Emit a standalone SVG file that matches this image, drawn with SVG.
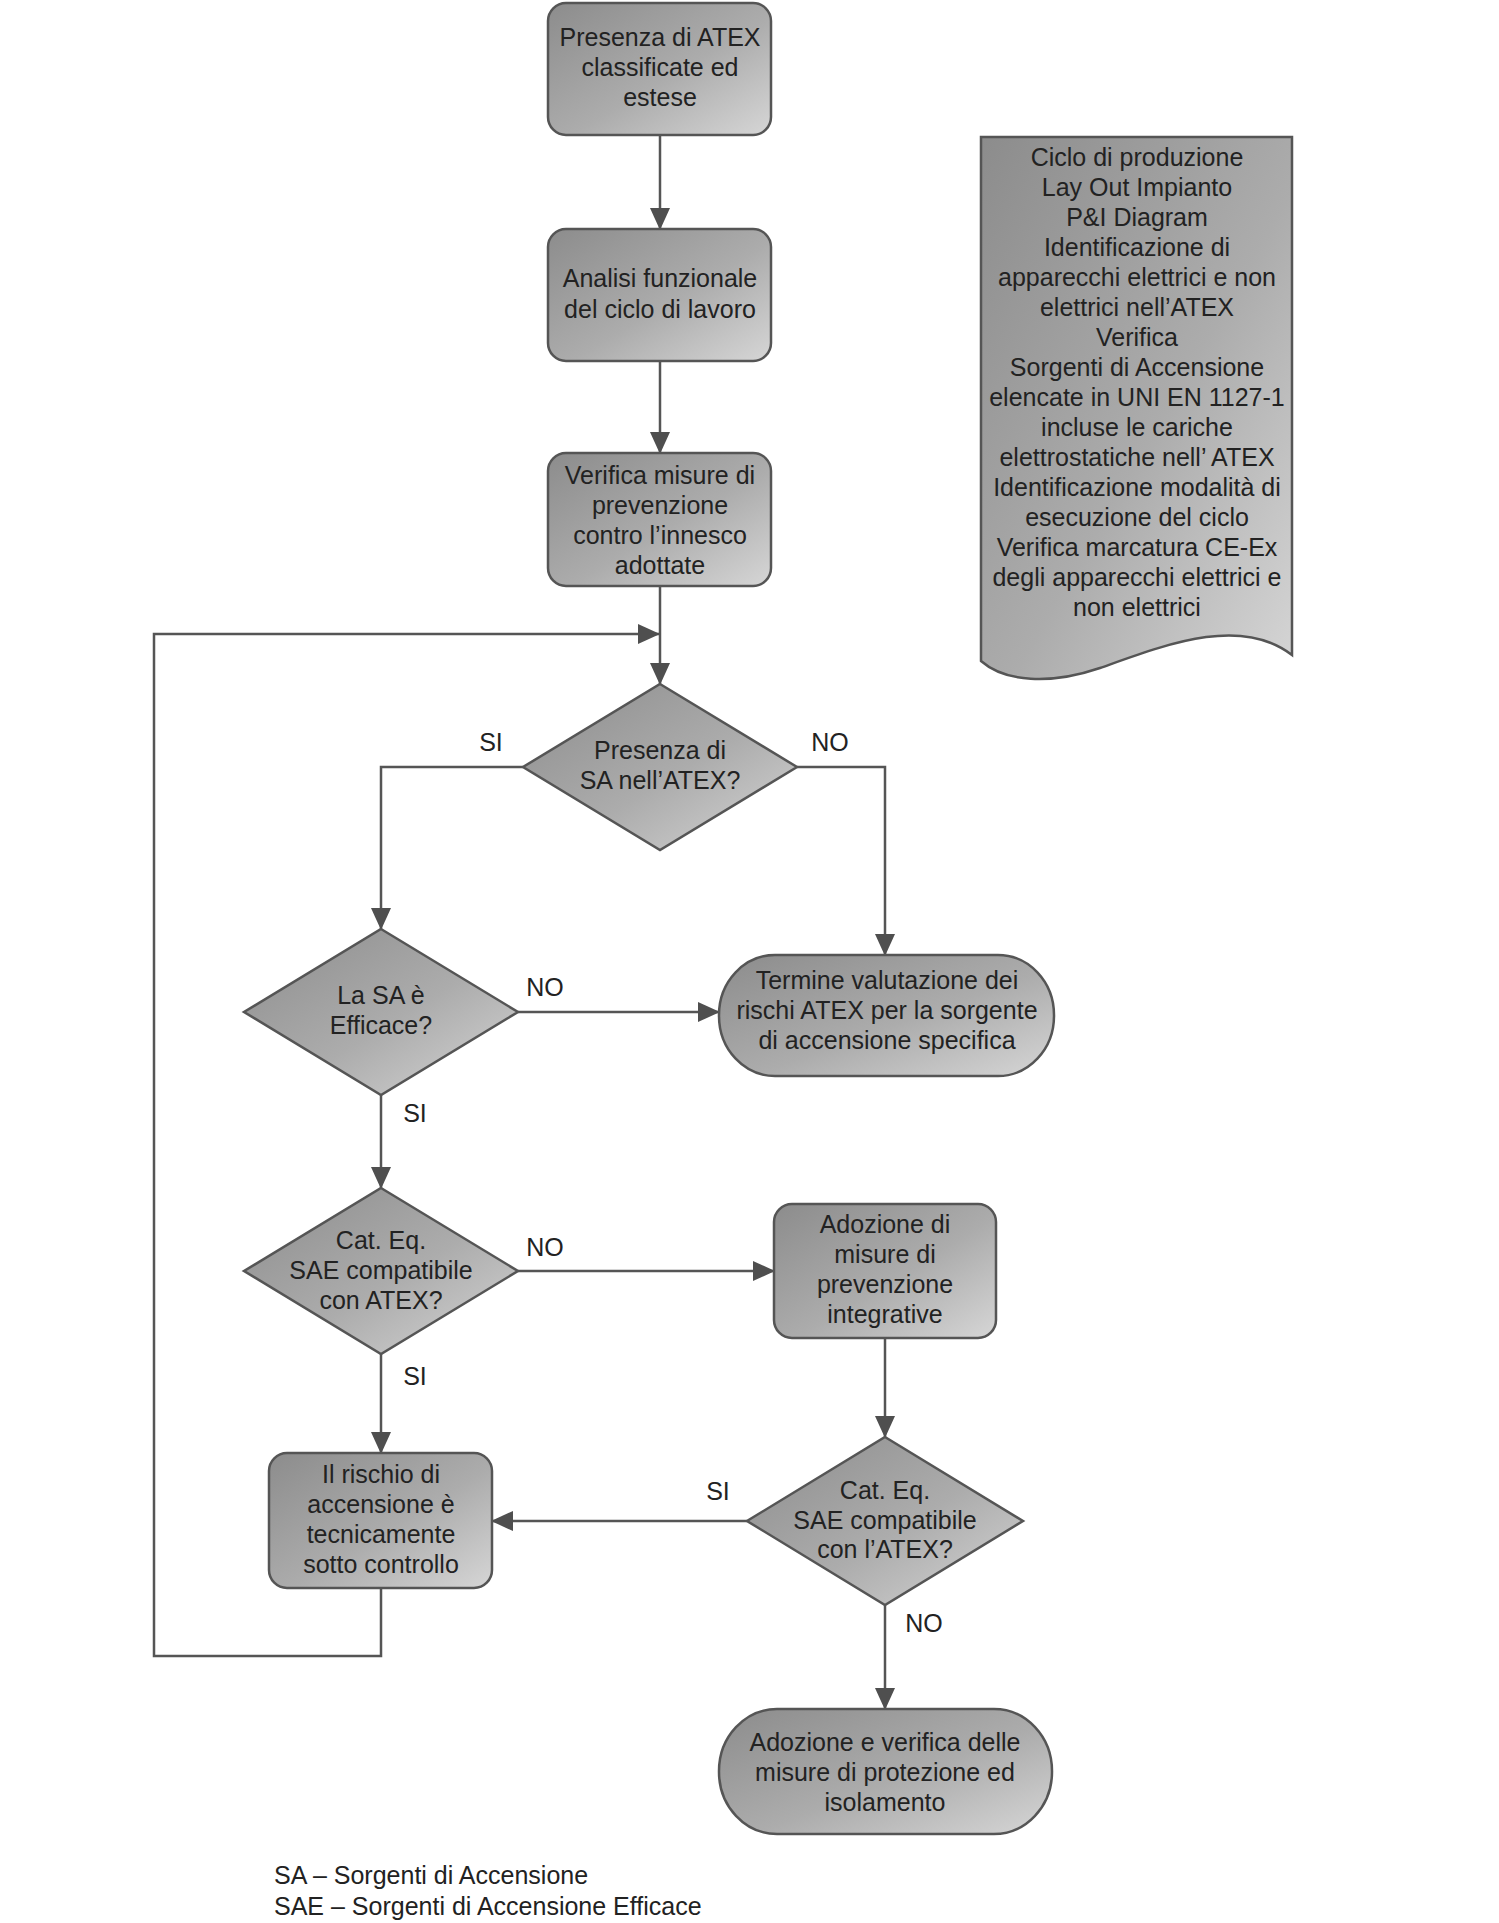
<svg xmlns="http://www.w3.org/2000/svg" width="1499" height="1923" viewBox="0 0 1499 1923">
<defs>
<linearGradient id="g" x1="0" y1="0" x2="1" y2="1">
<stop offset="0" stop-color="#8c8c8c"/>
<stop offset="0.55" stop-color="#acacac"/>
<stop offset="1" stop-color="#d6d6d6"/>
</linearGradient>
<marker id="ah" markerUnits="userSpaceOnUse" markerWidth="22" markerHeight="20" viewBox="0 0 22 20" refX="21" refY="10" orient="auto">
<path d="M0,0 L22,10 L0,20 Z" fill="#4f4f4f"/>
</marker>
<style>
.n{fill:url(#g);stroke:#555;stroke-width:2.5}
.c{fill:none;stroke:#555;stroke-width:2.5}
.a{marker-end:url(#ah)}
text{font-family:"Liberation Sans",Arial,sans-serif;font-size:25px;fill:#222;text-anchor:middle}
.l{text-anchor:start}
</style>
</defs>
<rect width="1499" height="1923" fill="#fff"/>
<g id="connectors">
<path class="c a" d="M660,135 V229"/>
<path class="c a" d="M660,361 V453"/>
<path class="c a" d="M660,586 V684"/>
<path class="c a" d="M381,1588 V1656 H154 V634 H659"/>
<path class="c a" d="M523,767 H381 V929"/>
<path class="c a" d="M797,767 H885 V955"/>
<path class="c a" d="M518,1012 H719"/>
<path class="c a" d="M381,1095 V1188"/>
<path class="c a" d="M518,1271 H774"/>
<path class="c a" d="M381,1354 V1453"/>
<path class="c a" d="M885,1338 V1437"/>
<path class="c a" d="M747,1521 H492"/>
<path class="c a" d="M885,1605 V1709"/>
</g>
<g id="labels">
<text x="491" y="751">SI</text>
<text x="830" y="751">NO</text>
<text x="545" y="996">NO</text>
<text x="415" y="1122">SI</text>
<text x="545" y="1256">NO</text>
<text x="415" y="1385">SI</text>
<text x="718" y="1500">SI</text>
<text x="924" y="1632">NO</text>
</g>
<g id="n1">
<rect class="n" x="548" y="3" width="223" height="132" rx="18"/>
<text x="660" y="46">Presenza di ATEX</text>
<text x="660" y="76">classificate ed</text>
<text x="660" y="106">estese</text>
</g>
<g id="n2">
<rect class="n" x="548" y="229" width="223" height="132" rx="18"/>
<text x="660" y="287">Analisi funzionale</text>
<text x="660" y="318">del ciclo di lavoro</text>
</g>
<g id="n3">
<rect class="n" x="548" y="453" width="223" height="133" rx="18"/>
<text x="660" y="484">Verifica misure di</text>
<text x="660" y="514">prevenzione</text>
<text x="660" y="544">contro l’innesco</text>
<text x="660" y="574">adottate</text>
</g>
<g id="doc">
<path class="n" d="M981,137 H1292 V655 C1240,615 1165,645 1100,668 C1050,685 1005,682 981,661 Z"/>
<text x="1137" y="166">Ciclo di produzione</text>
<text x="1137" y="196">Lay Out Impianto</text>
<text x="1137" y="226">P&amp;I Diagram</text>
<text x="1137" y="256">Identificazione di</text>
<text x="1137" y="286">apparecchi elettrici e non</text>
<text x="1137" y="316">elettrici nell’ATEX</text>
<text x="1137" y="346">Verifica</text>
<text x="1137" y="376">Sorgenti di Accensione</text>
<text x="1137" y="406">elencate in UNI EN 1127-1</text>
<text x="1137" y="436">incluse le cariche</text>
<text x="1137" y="466">elettrostatiche nell’ ATEX</text>
<text x="1137" y="496">Identificazione modalità di</text>
<text x="1137" y="526">esecuzione del ciclo</text>
<text x="1137" y="556">Verifica marcatura CE-Ex</text>
<text x="1137" y="586">degli apparecchi elettrici e</text>
<text x="1137" y="616">non elettrici</text>
</g>
<g id="d1">
<path class="n" d="M660,684 L797,767 L660,850 L523,767 Z"/>
<text x="660" y="759">Presenza di</text>
<text x="660" y="789">SA nell’ATEX?</text>
</g>
<g id="d2">
<path class="n" d="M381,929 L518,1012 L381,1095 L244,1012 Z"/>
<text x="381" y="1004">La SA è</text>
<text x="381" y="1034">Efficace?</text>
</g>
<g id="t1">
<rect class="n" x="719" y="955" width="335" height="121" rx="56" ry="60"/>
<text x="887" y="989">Termine valutazione dei</text>
<text x="887" y="1019">rischi ATEX per la sorgente</text>
<text x="887" y="1049">di accensione specifica</text>
</g>
<g id="d3">
<path class="n" d="M381,1188 L518,1271 L381,1354 L244,1271 Z"/>
<text x="381" y="1249">Cat. Eq.</text>
<text x="381" y="1279">SAE compatibile</text>
<text x="381" y="1309">con ATEX?</text>
</g>
<g id="n4">
<rect class="n" x="774" y="1204" width="222" height="134" rx="18"/>
<text x="885" y="1233">Adozione di</text>
<text x="885" y="1263">misure di</text>
<text x="885" y="1293">prevenzione</text>
<text x="885" y="1323">integrative</text>
</g>
<g id="d4">
<path class="n" d="M885,1437 L1023,1521 L885,1605 L747,1521 Z"/>
<text x="885" y="1499">Cat. Eq.</text>
<text x="885" y="1529">SAE compatibile</text>
<text x="885" y="1558">con l’ATEX?</text>
</g>
<g id="n5">
<rect class="n" x="269" y="1453" width="223" height="135" rx="18"/>
<text x="381" y="1483">Il rischio di</text>
<text x="381" y="1513">accensione è</text>
<text x="381" y="1543">tecnicamente</text>
<text x="381" y="1573">sotto controllo</text>
</g>
<g id="t2">
<rect class="n" x="719" y="1709" width="333" height="125" rx="58" ry="62"/>
<text x="885" y="1751">Adozione e verifica delle</text>
<text x="885" y="1781">misure di protezione ed</text>
<text x="885" y="1811">isolamento</text>
</g>
<g id="legend">
<text class="l" x="274" y="1884">SA – Sorgenti di Accensione</text>
<text class="l" x="274" y="1915">SAE – Sorgenti di Accensione Efficace</text>
</g>
</svg>
